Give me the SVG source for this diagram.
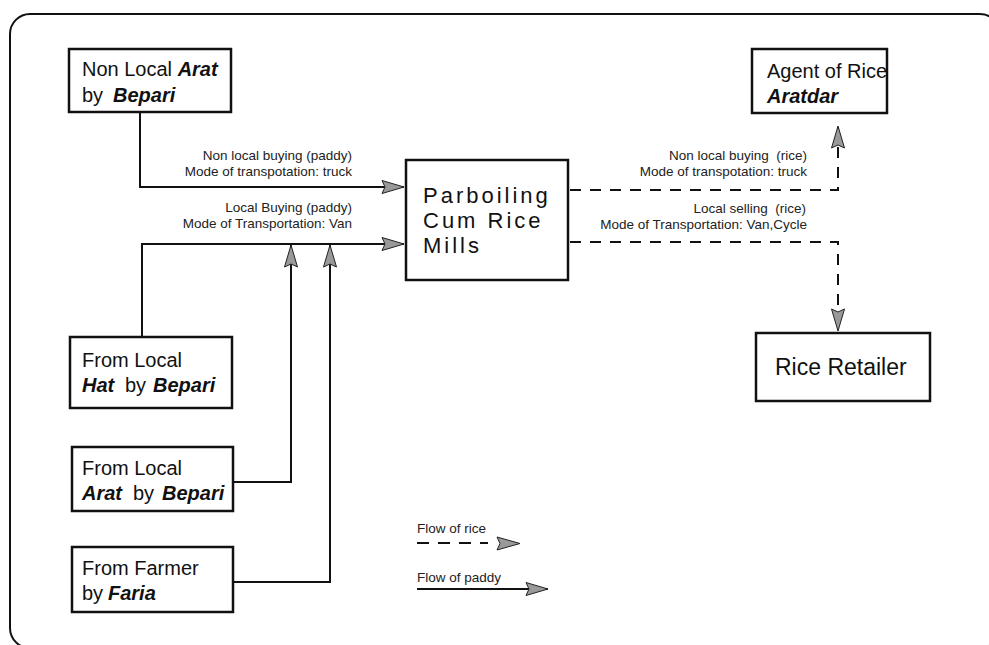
<svg xmlns="http://www.w3.org/2000/svg" width="989" height="645" viewBox="0 0 989 645">
<style>
  .box { fill: #fff; stroke: #111; stroke-width: 2.5; }
  .t { font-family: "Liberation Sans", Arial, sans-serif; font-size: 20px; fill: #111; }
  .bi { font-weight: bold; font-style: italic; }
  .big { font-size: 22px; letter-spacing: 3px; }
  .lbl { font-family: "Liberation Sans", Arial, sans-serif; font-size: 13.5px; fill: #222; }
  .solid { fill: none; stroke: #111; stroke-width: 2; }
  .dash { fill: none; stroke: #111; stroke-width: 2; stroke-dasharray: 11 9; }
  .head { fill: #999; stroke: #222; stroke-width: 1; }
</style>
<defs>
  <marker id="arr" markerUnits="userSpaceOnUse" viewBox="0 0 24 15" markerWidth="24" markerHeight="15" refX="23" refY="7.5" orient="auto">
    <path d="M1,1 L23,7.5 L1,14 L4,7.5 Z" class="head"/>
  </marker>
</defs>
<rect x="10" y="14" width="990" height="634" rx="20" fill="none" stroke="#111" stroke-width="2"/>

<g id="connectors">
  <path class="solid" d="M140,112 V187 H404" marker-end="url(#arr)"/>
  <path class="solid" d="M142,337 V244 H404" marker-end="url(#arr)"/>
  <path class="solid" d="M233,482 H291 V245" marker-end="url(#arr)"/>
  <path class="solid" d="M233,582 H330 V245" marker-end="url(#arr)"/>
  <path class="dash" d="M570,190 H838 V126" marker-end="url(#arr)"/>
  <path class="dash" d="M570,242 H838 V331" marker-end="url(#arr)"/>
  <text class="lbl" x="352" y="160" text-anchor="end">Non local buying (paddy)</text>
  <text class="lbl" x="352" y="176" text-anchor="end">Mode of transpotation: truck</text>
  <text class="lbl" x="352" y="212" text-anchor="end">Local Buying (paddy)</text>
  <text class="lbl" x="352" y="228" text-anchor="end">Mode of Transportation: Van</text>
  <text class="lbl" x="807" y="160" text-anchor="end" xml:space="preserve">Non local buying  (rice)</text>
  <text class="lbl" x="807" y="176" text-anchor="end">Mode of transpotation: truck</text>
  <text class="lbl" x="806" y="213" text-anchor="end" xml:space="preserve">Local selling  (rice)</text>
  <text class="lbl" x="807" y="229" text-anchor="end">Mode of Transportation: Van,Cycle</text>
</g>

<g id="node-nonlocal-arat">
  <rect class="box" x="69" y="49" width="162" height="63"/>
  <text class="t" x="82" y="76">Non Local <tspan class="bi">Arat</tspan></text>
  <text class="t" y="102"><tspan x="82">by</tspan><tspan x="113" class="bi">Bepari</tspan></text>
</g>

<g id="node-hat">
  <rect class="box" x="70" y="337" width="162" height="71"/>
  <text class="t" x="82" y="367">From Local</text>
  <text class="t" y="392"><tspan x="82" class="bi">Hat</tspan><tspan x="125">by</tspan><tspan x="153" class="bi">Bepari</tspan></text>
</g>

<g id="node-local-arat">
  <rect class="box" x="72" y="447" width="161" height="64"/>
  <text class="t" x="82" y="475">From Local</text>
  <text class="t" y="500"><tspan x="82" class="bi">Arat</tspan><tspan x="133">by</tspan><tspan x="162" class="bi">Bepari</tspan></text>
</g>

<g id="node-farmer">
  <rect class="box" x="72" y="547" width="161" height="65"/>
  <text class="t" x="82" y="575">From Farmer</text>
  <text class="t" y="600"><tspan x="82">by</tspan><tspan x="108" class="bi">Faria</tspan></text>
</g>

<g id="node-mills">
  <rect class="box" x="406" y="160" width="162" height="120"/>
  <text class="t big" x="423" y="203">Parboiling</text>
  <text class="t big" x="423" y="228">Cum Rice</text>
  <text class="t big" x="423" y="253">Mills</text>
</g>

<g id="node-agent">
  <rect class="box" x="752" y="49" width="135" height="64"/>
  <text class="t" x="767" y="78">Agent of Rice</text>
  <text class="t bi" x="767" y="103">Aratdar</text>
</g>

<g id="node-retailer">
  <rect class="box" x="756" y="333" width="174" height="68"/>
  <text class="t" x="775" y="375" style="font-size:23px">Rice Retailer</text>
</g>

<g id="legend">
  <text class="lbl" x="417" y="533">Flow of rice</text>
  <path class="dash" d="M417,543 H488" style="stroke-dasharray:12 9"/>
  <path class="head" d="M497,537 L520,543.5 L497,550 L500,543.5 Z"/>
  <text class="lbl" x="417" y="582">Flow of paddy</text>
  <path class="solid" d="M417,589 H548" marker-end="url(#arr)"/>
</g>
</svg>
